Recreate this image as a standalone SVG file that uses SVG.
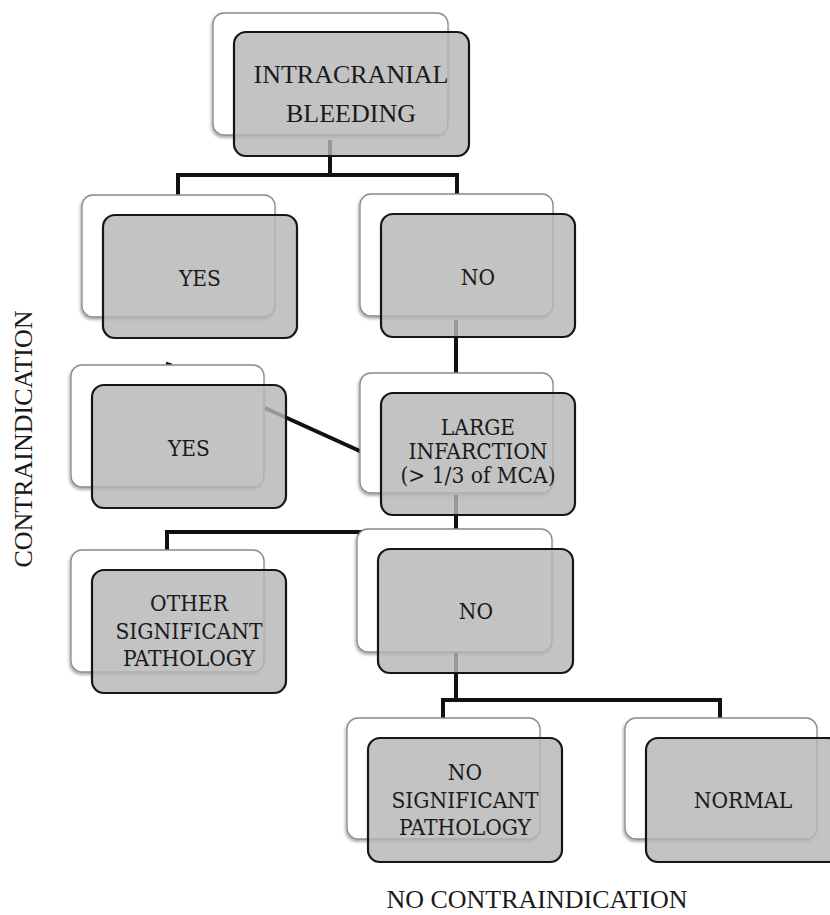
<svg xmlns="http://www.w3.org/2000/svg" width="830" height="915" viewBox="0 0 830 915">
<defs>
<filter id="sh" x="-10%" y="-10%" width="120%" height="130%">
<feDropShadow dx="-1" dy="2" stdDeviation="1.6" flood-color="#000" flood-opacity="0.35"/>
</filter>
<style>
.back{fill:#fff;stroke:#8a8a8a;stroke-width:1.3;filter:url(#sh)}
.front{fill:#b6b6b6;fill-opacity:0.82;stroke:#161616;stroke-width:2.2}
.t{font-family:"DejaVu Serif Condensed","DejaVu Serif",serif;font-stretch:condensed;font-size:22.5px;fill:#1a1a1a;text-anchor:middle}
.big{font-family:"Liberation Serif","Times New Roman",serif;font-stretch:normal;font-size:26px}
.conn{fill:none;stroke:#111;stroke-width:4;stroke-linejoin:miter;stroke-linecap:butt}
</style>
</defs>
<rect width="830" height="915" fill="#fff"/>
<g id="connectors" class="conn">
<path d="M330,140 V175"/>
<path d="M178,197 V175 H457 V196"/>
<path d="M456,320 V375"/>
<path d="M265,408 L362,452"/>
<path d="M167,552 V532 H456"/>
<path d="M456,495 V700"/>
<path d="M443,720 V700 H720 V720"/>
<path d="M166,363 L172,365" stroke-width="2.5"/>
</g>
<g id="intracranial-bleeding">
<rect class="back" x="213" y="13" width="235" height="122" rx="11"/>
<rect class="front" x="234" y="32" width="235" height="124" rx="12"/>
<text class="t big" x="351" y="83">INTRACRANIAL</text>
<text class="t big" x="351" y="122">BLEEDING</text>
</g>
<g id="yes-1">
<rect class="back" x="82" y="195" width="193" height="122" rx="11"/>
<rect class="front" x="103" y="215" width="194" height="123" rx="12"/>
<text class="t" x="200" y="286">YES</text>
</g>
<g id="no-1">
<rect class="back" x="360" y="194" width="193" height="122" rx="11"/>
<rect class="front" x="381" y="214" width="194" height="123" rx="12"/>
<text class="t" x="478" y="285">NO</text>
</g>
<g id="yes-2">
<rect class="back" x="71" y="365" width="193" height="122" rx="11"/>
<rect class="front" x="92" y="385" width="194" height="123" rx="12"/>
<text class="t" x="189" y="456">YES</text>
</g>
<g id="large-infarction">
<rect class="back" x="360" y="373" width="193" height="120" rx="11"/>
<rect class="front" x="381" y="393" width="194" height="122" rx="12"/>
<text class="t" x="478" y="435">LARGE</text>
<text class="t" x="478" y="459">INFARCTION</text>
<text class="t" x="478" y="483">(&gt; 1/3 of MCA)</text>
</g>
<g id="other-pathology">
<rect class="back" x="71" y="550" width="193" height="122" rx="11"/>
<rect class="front" x="92" y="570" width="194" height="123" rx="12"/>
<text class="t" x="189" y="611">OTHER</text>
<text class="t" x="189" y="638.5">SIGNIFICANT</text>
<text class="t" x="189" y="666">PATHOLOGY</text>
</g>
<g id="no-2">
<rect class="back" x="357" y="529" width="195" height="123" rx="11"/>
<rect class="front" x="378" y="549" width="195" height="124" rx="12"/>
<text class="t" x="476" y="619">NO</text>
</g>
<g id="no-significant-pathology">
<rect class="back" x="347" y="718" width="193" height="121" rx="11"/>
<rect class="front" x="368" y="738" width="194" height="124" rx="12"/>
<text class="t" x="465" y="780">NO</text>
<text class="t" x="465" y="808">SIGNIFICANT</text>
<text class="t" x="465" y="835">PATHOLOGY</text>
</g>
<g id="normal">
<rect class="back" x="625" y="718" width="192" height="121" rx="11"/>
<rect class="front" x="646" y="738" width="194" height="124" rx="12"/>
<text class="t" x="743" y="808">NORMAL</text>
</g>
<g id="labels">
<text class="t big" x="537" y="908">NO CONTRAINDICATION</text>
<text class="t big" transform="translate(32,439) rotate(-90)" x="0" y="0">CONTRAINDICATION</text>
</g>
</svg>
